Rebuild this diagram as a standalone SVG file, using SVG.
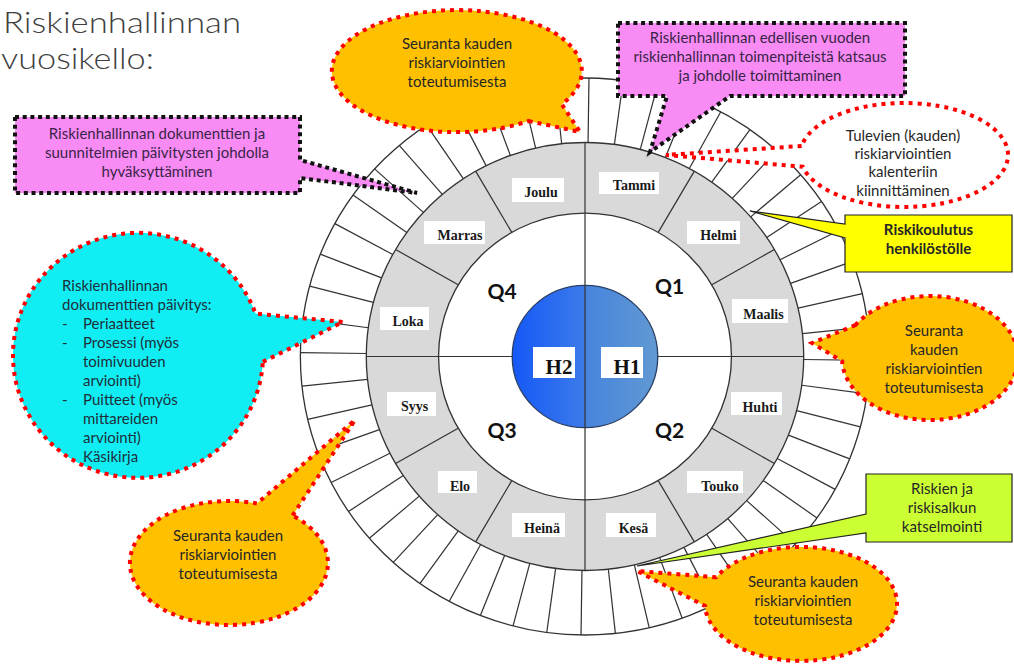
<svg xmlns="http://www.w3.org/2000/svg" xmlns:xlink="http://www.w3.org/1999/xlink" width="1014" height="667" viewBox="0 0 1014 667">
<style>
.ring{stroke:#333;stroke-width:1.3;}
.wk{stroke:#333;stroke-width:1.2;}
.mlbl{fill:#fff;}
.mtxt{font-family:"Liberation Serif",serif;font-weight:bold;font-size:14px;fill:#1a1a1a;text-anchor:middle;}
.q{font-family:Lato,"Liberation Sans",sans-serif;font-weight:bold;font-size:21px;fill:#111;text-anchor:middle;}
.h{font-family:"Liberation Serif",serif;font-weight:bold;font-size:21px;fill:#111;text-anchor:middle;}
.t{font-family:Lato,"Liberation Sans",sans-serif;font-size:15px;fill:#262626;text-anchor:middle;}
.tl{font-family:Lato,"Liberation Sans",sans-serif;font-size:15px;fill:#1f2f3a;}
.pk{fill:#F88CF4;stroke:#111;stroke-width:4;stroke-dasharray:4 3.7;}
.pt{fill:#3a2448;}
.or{fill:#FFC000;stroke:#FF0000;stroke-width:4;stroke-dasharray:4 5;}
.title{font-family:Lato,"Liberation Sans",sans-serif;font-weight:300;font-size:30px;fill:#404040;}
</style>
<defs>
<linearGradient id="blue" x1="0" y1="0" x2="1" y2="0">
<stop offset="0" stop-color="#1558F6"/>
<stop offset="0.5" stop-color="#3C7BEA"/>
<stop offset="0.5" stop-color="#4784DE"/>
<stop offset="1" stop-color="#6199D2"/>
</linearGradient>
<line id="w" x1="0" y1="-214" x2="0" y2="-278.5" class="wk"/>
<line id="m" x1="0" y1="-143.3" x2="0" y2="-214" class="wk"/>
</defs>

<g id="title">
<text class="title" x="3" y="32.5" textLength="238" lengthAdjust="spacingAndGlyphs">Riskienhallinnan</text>
<text class="title" x="1" y="68.5" textLength="153" lengthAdjust="spacingAndGlyphs">vuosikello:</text>
</g>

<g id="wheel" transform="translate(585,356.5) scale(1.022,1)">
<circle r="278.5" fill="#fff" class="ring"/>
<g transform="rotate(0.8)">
<use xlink:href="#w"/><use xlink:href="#w" transform="rotate(6.923)"/><use xlink:href="#w" transform="rotate(13.846)"/><use xlink:href="#w" transform="rotate(20.769)"/><use xlink:href="#w" transform="rotate(27.692)"/><use xlink:href="#w" transform="rotate(34.615)"/><use xlink:href="#w" transform="rotate(41.538)"/><use xlink:href="#w" transform="rotate(48.462)"/><use xlink:href="#w" transform="rotate(55.385)"/><use xlink:href="#w" transform="rotate(62.308)"/><use xlink:href="#w" transform="rotate(69.231)"/><use xlink:href="#w" transform="rotate(76.154)"/><use xlink:href="#w" transform="rotate(83.077)"/>
<use xlink:href="#w" transform="rotate(90)"/><use xlink:href="#w" transform="rotate(96.923)"/><use xlink:href="#w" transform="rotate(103.846)"/><use xlink:href="#w" transform="rotate(110.769)"/><use xlink:href="#w" transform="rotate(117.692)"/><use xlink:href="#w" transform="rotate(124.615)"/><use xlink:href="#w" transform="rotate(131.538)"/><use xlink:href="#w" transform="rotate(138.462)"/><use xlink:href="#w" transform="rotate(145.385)"/><use xlink:href="#w" transform="rotate(152.308)"/><use xlink:href="#w" transform="rotate(159.231)"/><use xlink:href="#w" transform="rotate(166.154)"/><use xlink:href="#w" transform="rotate(173.077)"/>
<use xlink:href="#w" transform="rotate(180)"/><use xlink:href="#w" transform="rotate(186.923)"/><use xlink:href="#w" transform="rotate(193.846)"/><use xlink:href="#w" transform="rotate(200.769)"/><use xlink:href="#w" transform="rotate(207.692)"/><use xlink:href="#w" transform="rotate(214.615)"/><use xlink:href="#w" transform="rotate(221.538)"/><use xlink:href="#w" transform="rotate(228.462)"/><use xlink:href="#w" transform="rotate(235.385)"/><use xlink:href="#w" transform="rotate(242.308)"/><use xlink:href="#w" transform="rotate(249.231)"/><use xlink:href="#w" transform="rotate(256.154)"/><use xlink:href="#w" transform="rotate(263.077)"/>
<use xlink:href="#w" transform="rotate(270)"/><use xlink:href="#w" transform="rotate(276.923)"/><use xlink:href="#w" transform="rotate(283.846)"/><use xlink:href="#w" transform="rotate(290.769)"/><use xlink:href="#w" transform="rotate(297.692)"/><use xlink:href="#w" transform="rotate(304.615)"/><use xlink:href="#w" transform="rotate(311.538)"/><use xlink:href="#w" transform="rotate(318.462)"/><use xlink:href="#w" transform="rotate(325.385)"/><use xlink:href="#w" transform="rotate(332.308)"/><use xlink:href="#w" transform="rotate(339.231)"/><use xlink:href="#w" transform="rotate(346.154)"/><use xlink:href="#w" transform="rotate(353.077)"/>
</g>
<circle r="214" fill="#D9D9D9" class="ring"/>
<use xlink:href="#m" transform="rotate(30)"/><use xlink:href="#m" transform="rotate(60)"/><use xlink:href="#m" transform="rotate(120)"/><use xlink:href="#m" transform="rotate(150)"/><use xlink:href="#m" transform="rotate(210)"/><use xlink:href="#m" transform="rotate(240)"/><use xlink:href="#m" transform="rotate(300)"/><use xlink:href="#m" transform="rotate(330)"/>
<circle r="143.3" fill="#fff" class="ring"/>
<line x1="-214" y1="0" x2="214" y2="0" class="wk"/>
<circle r="71.2" fill="url(#blue)" stroke="#2a3f66" stroke-width="1.3"/>
<line x1="0" y1="-214" x2="0" y2="214" class="wk"/>
</g>

<g id="month-tammi"><rect class="mlbl" x="599" y="172" width="60" height="22"/><text class="mtxt" x="634" y="190">Tammi</text></g>
<g id="month-helmi"><rect class="mlbl" x="687" y="221" width="53" height="23"/><text class="mtxt" x="718.5" y="240">Helmi</text></g>
<g id="month-maalis"><rect class="mlbl" x="732" y="299" width="56" height="24"/><text class="mtxt" x="763.5" y="319">Maalis</text></g>
<g id="month-huhti"><rect class="mlbl" x="731" y="392" width="51" height="23"/><text class="mtxt" x="760" y="412">Huhti</text></g>
<g id="month-touko"><rect class="mlbl" x="687" y="471" width="56" height="22"/><text class="mtxt" x="720" y="491">Touko</text></g>
<g id="month-kesa"><rect class="mlbl" x="606" y="513" width="50" height="24"/><text class="mtxt" x="633.5" y="533">Kesä</text></g>
<g id="month-heina"><rect class="mlbl" x="512" y="513" width="53" height="24"/><text class="mtxt" x="542" y="533">Heinä</text></g>
<g id="month-elo"><rect class="mlbl" x="438" y="471" width="39" height="22"/><text class="mtxt" x="460" y="491">Elo</text></g>
<g id="month-syys"><rect class="mlbl" x="387" y="392" width="49" height="24"/><text class="mtxt" x="414.5" y="411">Syys</text></g>
<g id="month-loka"><rect class="mlbl" x="380" y="307" width="49" height="23"/><text class="mtxt" x="408" y="326">Loka</text></g>
<g id="month-marras"><rect class="mlbl" x="424" y="221" width="61" height="23"/><text class="mtxt" x="460" y="240">Marras</text></g>
<g id="month-joulu"><rect class="mlbl" x="512" y="178" width="52" height="24"/><text class="mtxt" x="541" y="197">Joulu</text></g>

<g id="q1"><text class="q" x="669.5" y="294">Q1</text></g>
<g id="q2"><text class="q" x="669.5" y="438">Q2</text></g>
<g id="q3"><text class="q" x="502" y="438">Q3</text></g>
<g id="q4"><text class="q" x="502" y="299">Q4</text></g>
<g id="h2"><rect class="mlbl" x="533" y="347" width="42" height="31"/><text class="h" x="559" y="374">H2</text></g>
<g id="h1"><rect class="mlbl" x="601" y="347" width="42" height="31"/><text class="h" x="627" y="374">H1</text></g>

<g id="connectors"></g>

<g id="callout-approval">
<path class="pk" d="M15,117 H300 V160 L417,193 L300,178 V193 H15 Z"/>
<text class="t pt" x="157" y="139">Riskienhallinnan dokumenttien ja</text>
<text class="t pt" x="157" y="158">suunnitelmien päivitysten johdolla</text>
<text class="t pt" x="157" y="177">hyväksyttäminen</text>
</g>

<g id="callout-review">
<path class="pk" d="M618,23 H905 V96 H730 L650,152 L667,96 H618 Z"/>
<text class="t pt" x="760" y="43">Riskienhallinnan edellisen vuoden</text>
<text class="t pt" x="760" y="62">riskienhallinnan toimenpiteistä katsaus</text>
<text class="t pt" x="760" y="81">ja johdolle toimittaminen</text>
</g>

<g id="callout-follow-top">
<path class="or" d="M528.7,121 L580,132 L561.8,104.2 A125,61 0 1 0 528.7,121 Z"/>
<text class="t" x="457" y="49">Seuranta kauden</text>
<text class="t" x="457" y="68">riskiarviointien</text>
<text class="t" x="457" y="87">toteutumisesta</text>
</g>

<g id="callout-calendar">
<path d="M801.6,146 L666,155 L802.7,166.7 A104,52 0 1 0 801.6,146 Z" fill="#fff" stroke="#FF0000" stroke-width="4" stroke-dasharray="4 5"/>
<text class="t" x="903" y="141">Tulevien (kauden)</text>
<text class="t" x="903" y="159">riskiarviointien</text>
<text class="t" x="903" y="177">kalenteriin</text>
<text class="t" x="903" y="196">kiinnittäminen</text>
</g>

<g id="callout-training">
<path d="M845,215 H1012 V272 H845 V238 L750,211 L845,224 Z" fill="#FFFF00" stroke="#222" stroke-width="1.2"/>
<text class="t" x="928.5" y="235" font-weight="bold">Riskikoulutus</text>
<text class="t" x="928.5" y="254" font-weight="bold">henkilöstölle</text>
</g>

<g id="callout-follow-right">
<path class="or" d="M855.4,325.1 L812,343 L842.1,361.2 A88,62 0 1 0 855.4,325.1 Z"/>
<text class="t" x="934" y="336">Seuranta</text>
<text class="t" x="934" y="355">kauden</text>
<text class="t" x="934" y="374">riskiarviointien</text>
<text class="t" x="934" y="393">toteutumisesta</text>
</g>

<g id="callout-documents">
<path d="M262.8,361.9 L343,322 L255.5,313.6 A125,122.5 0 1 0 262.8,361.9 Z" fill="#10EEF4" stroke="#FF0000" stroke-width="4" stroke-dasharray="4 5"/>
<text class="tl" x="62" y="291">Riskienhallinnan</text>
<text class="tl" x="62" y="310">dokumenttien päivitys:</text>
<text class="tl" x="62" y="329">-</text><text class="tl" x="83" y="329">Periaatteet</text>
<text class="tl" x="62" y="348">-</text><text class="tl" x="83" y="348">Prosessi (myös</text>
<text class="tl" x="83" y="367">toimivuuden</text>
<text class="tl" x="83" y="386">arviointi)</text>
<text class="tl" x="62" y="405">-</text><text class="tl" x="83" y="405">Puitteet (myös</text>
<text class="tl" x="83" y="424">mittareiden</text>
<text class="tl" x="83" y="443">arviointi)</text>
<text class="tl" x="83" y="462">Käsikirja</text>
</g>

<g id="callout-follow-left">
<path class="or" d="M292.6,515.5 L355,420 L256.9,503.5 A99,62 0 1 0 292.6,515.5 Z"/>
<text class="t" x="228" y="541">Seuranta kauden</text>
<text class="t" x="228" y="560">riskiarviointien</text>
<text class="t" x="228" y="579">toteutumisesta</text>
</g>

<g id="callout-portfolio">
<path d="M866,474 H1012 V542 H866 V533 L637,566 L866,514 Z" fill="#CCFF33" stroke="#222" stroke-width="1.2"/>
<text class="t" x="942" y="494">Riskien ja</text>
<text class="t" x="942" y="513">riskisalkun</text>
<text class="t" x="942" y="532">katselmointi</text>
</g>

<g id="callout-follow-bottom">
<path class="or" d="M716.2,577.2 L637,571 L705.1,606 A96,57 0 1 0 716.2,577.2 Z"/>
<text class="t" x="803" y="587">Seuranta kauden</text>
<text class="t" x="803" y="606">riskiarviointien</text>
<text class="t" x="803" y="625">toteutumisesta</text>
</g>
</svg>
